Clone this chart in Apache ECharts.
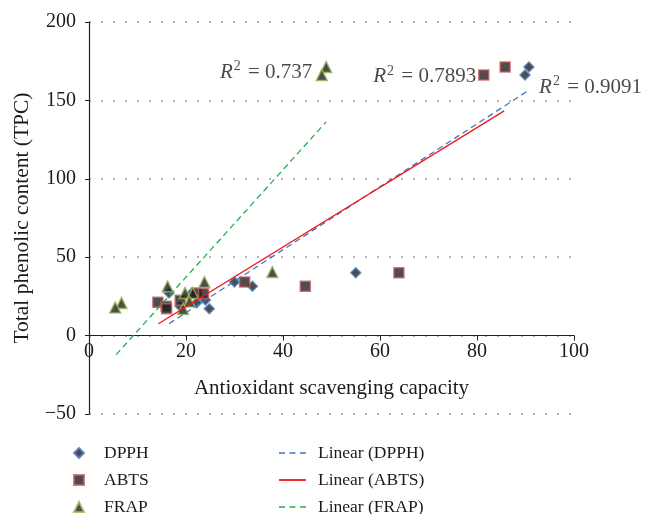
<!DOCTYPE html>
<html><head><meta charset="utf-8">
<script src="https://cdn.jsdelivr.net/npm/echarts@6/dist/echarts.min.js"></script>
<style>html,body{margin:0;padding:0;background:#fff}#c{width:645px;height:514px}</style>
</head><body><div id="c"></div>
<script>
// ---- data ----
const dpphX = [90.7, 89.9, 55.0, 30.0, 33.7, 16.5, 21.2, 24.0, 22.2, 18.8, 24.8];
const dpphY = [171.3, 166.2, 40.1, 34.2, 31.5, 27.2, 27.2, 22.7, 21.0, 18.7, 17.1];
const abtsX = [85.8, 81.4, 63.9, 32.1, 44.6, 22.2, 23.6, 18.8, 14.2, 15.9, 16.0];
const abtsY = [171.3, 166.2, 40.1, 34.2, 31.4, 27.2, 26.8, 22.5, 21.2, 18.7, 17.2];
const frapX = [48.9, 48.0, 37.8, 23.8, 16.2, 19.8, 21.4, 20.7, 6.7, 5.4, 19.4];
const frapY = [171.3, 166.2, 40.5, 34.2, 31.4, 27.2, 27.2, 21.8, 20.8, 18.0, 17.0];
const dpphTrendX = [16.5, 90.8], dpphTrendY = [7.6, 156.7];
const abtsTrendX = [14.3, 85.6], abtsTrendY = [7.6, 143.3];
const frapTrendX = [5.6, 48.9], frapTrendY = [-12.1, 136.3];
const r2Text = ['0.737', '0.7893', '0.9091'];
const r2X = [27.0, 58.6, 92.8];
const r2Y = [167.6, 165.0, 158.4];
const seriesNames = ['DPPH', 'ABTS', 'FRAP'];
const trendNames = ['Linear (DPPH)', 'Linear (ABTS)', 'Linear (FRAP)'];
const xTicks = {min: 0, max: 100, interval: 20};
const yTicks = {min: -50, max: 200, interval: 50};
const xTitle = 'Antioxidant scavenging capacity';
const yTitle = 'Total phenolic content (TPC)';

// ---- build ----
const zip = (xs, ys) => xs.map((x, i) => [x, ys[i]]);
const FONT = "'Liberation Serif', 'DejaVu Serif', serif";
const TXT = '#1e1a1b';
const W = 645, H = 514;
const G = {left: 89, right: 71, top: 22, bottom: 100};
const gridH = H - G.top - G.bottom;
const zeroOffset = gridH * (0 - yTicks.min) / (yTicks.max - yTicks.min);

const chart = echarts.init(document.getElementById('c'), null, {renderer: 'canvas'});

const markerStyle = [
  {symbol: 'diamond', size: 10, border: '#4f81bd'},
  {symbol: 'rect', size: 10, border: '#cd5c5c'},
  {symbol: 'triangle', size: 11, border: '#9bbb59'}
];
const scatterData = [zip(dpphX, dpphY), zip(abtsX, abtsY), zip(frapX, frapY)];
const trendData = [zip(dpphTrendX, dpphTrendY), zip(abtsTrendX, abtsTrendY), zip(frapTrendX, frapTrendY)];
const DASH_ICON = 'path://M0,0h6v1.6h-6z M10.5,0h6v1.6h-6z M21,0h6v1.6h-6z';
const SOLID_ICON = 'path://M0,0h27v1.8h-27z';
const trendStyle = [
  {color: '#3a78c2', type: [6, 4], icon: DASH_ICON},
  {color: '#f0191e', type: 'solid', icon: SOLID_ICON},
  {color: '#25b04a', type: [6, 4], icon: DASH_ICON}
];

const series = [];
seriesNames.forEach((n, i) => {
  series.push({
    name: n, type: 'scatter', data: scatterData[i],
    symbol: markerStyle[i].symbol, symbolSize: markerStyle[i].size,
    itemStyle: {color: '#231f20', borderColor: markerStyle[i].border, borderWidth: 1.5},
    z: 2
  });
});
trendNames.forEach((n, i) => {
  series.push({
    name: n, type: 'line', data: trendData[i], symbol: 'none', showSymbol: false,
    lineStyle: {color: trendStyle[i].color, type: trendStyle[i].type, width: 1.3},
    itemStyle: {color: trendStyle[i].color},
    z: 3, silent: true
  });
});
series.push({
  type: 'scatter', symbolSize: 0, silent: true, z: 4,
  data: r2Text.map((t, i) => ({value: [r2X[i], r2Y[i]], t: t})),
  label: {
    show: true, position: 'right', distance: 0,
    formatter: p => '{r|R}{s|2}{t| = ' + p.data.t + '}',
    rich: {
      r: {fontFamily: FONT, fontStyle: 'italic', fontSize: 21, color: TXT, lineHeight: 26},
      s: {fontFamily: FONT, fontSize: 14, color: TXT, lineHeight: 14, verticalAlign: 'top', padding: [0, 2, 0, 1]},
      t: {fontFamily: FONT, fontSize: 21, color: TXT, lineHeight: 26}
    }
  }
});

const rowCenters = [453, 480, 507];
const legends = [];
seriesNames.forEach((n, i) => {
  legends.push({
    data: [n], left: 73, top: rowCenters[i] - 10, padding: 0,
    itemWidth: 10, itemHeight: 10,
    textStyle: {fontFamily: FONT, fontSize: 17.5, color: TXT, lineHeight: 20, padding: [0, 0, 0, 15]}
  });
});
trendNames.forEach((n, i) => {
  legends.push({
    data: [{name: n, icon: trendStyle[i].icon}], left: 279, top: rowCenters[i] - 10, padding: 0,
    itemWidth: 27, itemHeight: 2,
    textStyle: {fontFamily: FONT, fontSize: 17.5, color: TXT, lineHeight: 20, padding: [0, 0, 0, 7]}
  });
});

chart.setOption({
  animation: false,
  backgroundColor: '#fff',
  grid: G,
  xAxis: {
    type: 'value', min: xTicks.min, max: xTicks.max, interval: xTicks.interval,
    offset: -zeroOffset,
    axisLine: {onZero: false, lineStyle: {color: '#231f20', width: 1.2}},
    axisTick: {show: true, length: 5, lineStyle: {color: '#231f20'}},
    axisLabel: {fontFamily: FONT, fontSize: 20, color: TXT, margin: 6, showMinLabel: true},
    splitLine: {show: false},
    name: xTitle, nameLocation: 'middle', nameGap: 42,
    nameTextStyle: {fontFamily: FONT, fontSize: 21, color: TXT}
  },
  yAxis: {
    type: 'value', min: yTicks.min, max: yTicks.max, interval: yTicks.interval,
    axisLine: {show: true, onZero: false, lineStyle: {color: '#231f20', width: 1.2}},
    axisTick: {show: true, length: 4, lineStyle: {color: '#231f20'}},
    axisLabel: {fontFamily: FONT, fontSize: 20, color: TXT, margin: 13,
      formatter: v => String(v).replace('-', '\u2212')},
    splitLine: {show: true, lineStyle: {color: '#9a9a9a', type: [2, 10], width: 1.5}},
    name: yTitle, nameLocation: 'middle', nameGap: 52,
    nameTextStyle: {fontFamily: FONT, fontSize: 21.5, color: TXT}
  },
  legend: legends,
  series: series
});
</script></body></html>
